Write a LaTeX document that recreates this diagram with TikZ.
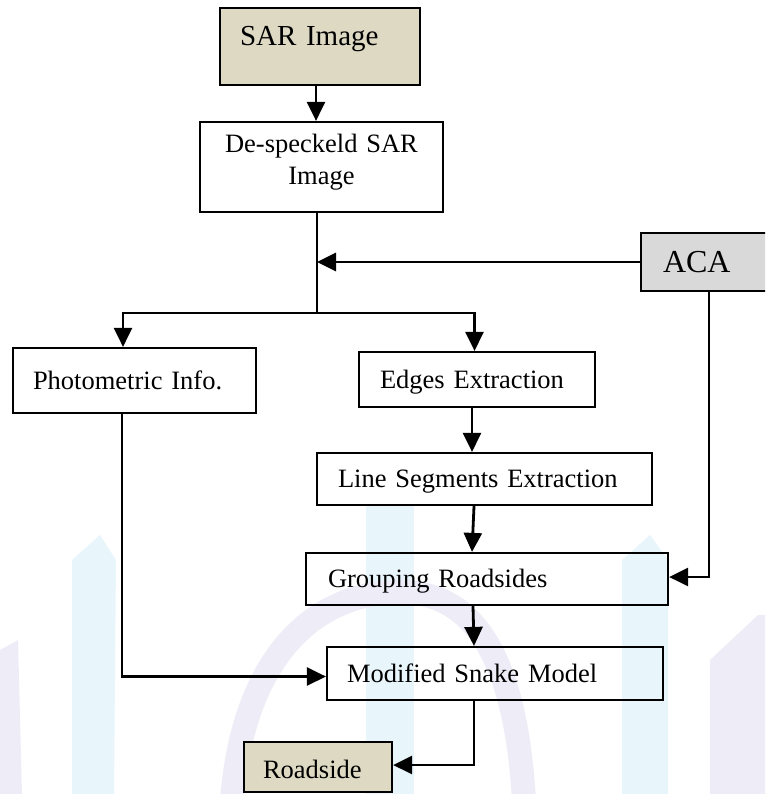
\documentclass[tikz,border=0pt]{standalone}
\usepackage{fontspec}
\setmainfont{Liberation Serif}
\usetikzlibrary{arrows.meta}
\definecolor{tanbox}{HTML}{DDD9C3}
\definecolor{graybox}{HTML}{D9D9D9}
\definecolor{wmblue}{HTML}{E8F6FC}
\definecolor{wmlav}{HTML}{EEEDF7}
\begin{document}
\begin{tikzpicture}[x=1pt,y=-1pt,
  box/.style={draw=black, line width=2.2pt, rectangle, inner ysep=0pt, inner xsep=20pt,
    align=left, font=\fontsize{26.5}{32}\selectfont, text height=17.5pt, text depth=0pt},
  arr/.style={draw=black, line width=2.8pt, -{Triangle[length=19pt,width=18pt]}},
  ln/.style={draw=black, line width=2.2pt}]
\clip (0,0) rectangle (765,794);
\fill[white] (0,0) rectangle (765,794);
% faint watermark
\fill[wmlav] (0,650) -- (18,640) -- (22,794) -- (0,794) -- cycle;
\fill[wmblue] (72,560) -- (100,535) -- (116,560) -- (114,794) -- (72,794) -- cycle;
\fill[wmblue] (366,505) -- (414,505) -- (414,794) -- (366,794) -- cycle;
\draw[wmlav, line width=24pt] (232,800) .. controls (244,650) and (320,592) .. (400,592) .. controls (470,592) and (515,650) .. (524,800);
\fill[wmblue] (622,560) -- (650,535) -- (668,560) -- (668,794) -- (622,794) -- cycle;
\fill[wmlav] (710,660) -- (758,615) -- (765,615) -- (765,794) -- (710,794) -- cycle;
% boxes
\node[box, fill=tanbox, minimum width=200pt, minimum height=77pt, text width=160pt,
  font=\fontsize{29}{34}\selectfont, text height=19pt, text depth=20pt] (sar) at (320,46.5) {SAR Image};
\node[box, minimum width=243pt, minimum height=90pt, text width=223pt, inner xsep=10pt,
  align=center, text height=17pt, text depth=45pt] (desp) at (321.5,167) {De-speckeld SAR\\Image};
\node[box, fill=graybox, minimum width=129pt, minimum height=58pt, text width=85pt, inner xsep=22pt,
  font=\fontsize{32}{38}\selectfont, text height=21pt] (aca) at (705.5,262) {ACA};
\node[box, minimum width=243pt, minimum height=65pt, text width=203pt] (photo) at (134.5,380.5) {Photometric Info.};
\node[box, minimum width=236pt, minimum height=55pt, text width=194pt, inner xsep=21pt] (edges) at (477,379.5) {Edges Extraction};
\node[box, minimum width=335pt, minimum height=52pt, text width=293pt, inner xsep=21pt] (lineseg) at (484.5,479) {Line Segments Extraction};
\node[box, minimum width=362pt, minimum height=52pt, text width=318pt, inner xsep=22pt] (group) at (487,579) {Grouping Roadsides};
\node[box, minimum width=336pt, minimum height=53pt, text width=296pt] (snake) at (495,673.5) {Modified Snake Model};
\node[box, fill=tanbox, minimum width=148pt, minimum height=50pt, text width=110pt, inner xsep=19pt,
  text height=22pt] (road) at (318,767) {Roadside};
% junction
\coordinate (j) at (317,313);
% connectors
\draw[arr] ([xshift=-4pt]sar.south) -- ([xshift=-4pt]sar.south |- desp.north);
\draw[ln] (desp.south -| j) -- (j);
\draw[arr] (aca.west) -- (aca.west -| j);
\draw[arr] (j) -| ([xshift=-11.5pt]photo.north);
\draw[arr] (j) -| ([xshift=-2.5pt]edges.north);
\draw[arr] ([xshift=-5pt]edges.south) -- ([xshift=-5pt]edges.south |- lineseg.north);
\draw[arr] ([xshift=-10.5pt]lineseg.south) -- ([xshift=-15pt]group.north);
\draw[arr] ([xshift=-14pt]group.south) -- ([xshift=-21pt]snake.north);
\draw[arr] ([xshift=3.5pt]aca.south) |- ([yshift=2pt]group.east);
\draw[arr] ([xshift=-12.5pt]photo.south) |- ([yshift=-3pt]snake.west);
\draw[arr] ([xshift=-21pt]snake.south) |- ([yshift=2pt]road.east);
\end{tikzpicture}
\end{document}
